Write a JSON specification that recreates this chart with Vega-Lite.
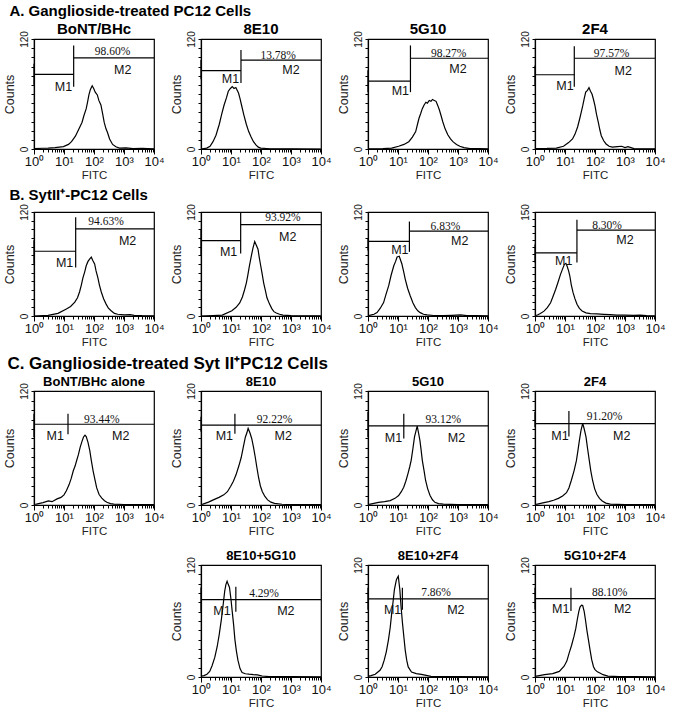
{
"$schema": "https://vega.github.io/schema/vega-lite/v6.json",
"padding": {"left": 2, "right": 2, "top": 4, "bottom": 0},
"background": "white",
"data": {"values": [
{"p":"a1","x":1,"y":0.5},{"p":"a1","x":2,"y":0.8},{"p":"a1","x":2.95,"y":1},{"p":"a1","x":5.01,"y":1.5},{"p":"a1","x":9.55,"y":2.6},{"p":"a1","x":14.1,"y":5},{"p":"a1","x":17.8,"y":8},{"p":"a1","x":24,"y":14},{"p":"a1","x":31.6,"y":22},{"p":"a1","x":39.8,"y":29},{"p":"a1","x":45.7,"y":36},{"p":"a1","x":55,"y":44},{"p":"a1","x":61.7,"y":52},{"p":"a1","x":67.6,"y":59},{"p":"a1","x":75.9,"y":65},{"p":"a1","x":87.1,"y":69},{"p":"a1","x":97.7,"y":66},{"p":"a1","x":110,"y":62},{"p":"a1","x":129,"y":59},{"p":"a1","x":145,"y":53},{"p":"a1","x":170,"y":48},{"p":"a1","x":195,"y":38},{"p":"a1","x":219,"y":29},{"p":"a1","x":251,"y":22},{"p":"a1","x":282,"y":18},{"p":"a1","x":331,"y":11},{"p":"a1","x":417,"y":5},{"p":"a1","x":537,"y":2.5},{"p":"a1","x":708,"y":1},{"p":"a1","x":1175,"y":1.2},{"p":"a1","x":1995,"y":0.5},{"p":"a1","x":3981,"y":0.8},{"p":"a1","x":10000,"y":0.3},
{"p":"a2","x":1,"y":0},{"p":"a2","x":1.55,"y":1},{"p":"a2","x":2,"y":3},{"p":"a2","x":2.51,"y":8},{"p":"a2","x":3.16,"y":15},{"p":"a2","x":4.07,"y":27},{"p":"a2","x":4.9,"y":38},{"p":"a2","x":5.89,"y":48},{"p":"a2","x":7.08,"y":56},{"p":"a2","x":8.13,"y":63},{"p":"a2","x":9.55,"y":66},{"p":"a2","x":11,"y":68},{"p":"a2","x":12.6,"y":66},{"p":"a2","x":14.5,"y":67},{"p":"a2","x":17.8,"y":61},{"p":"a2","x":20,"y":55},{"p":"a2","x":22.4,"y":48},{"p":"a2","x":26.9,"y":37},{"p":"a2","x":32.4,"y":27},{"p":"a2","x":38.9,"y":19},{"p":"a2","x":46.8,"y":13},{"p":"a2","x":56.2,"y":8},{"p":"a2","x":67.6,"y":4.5},{"p":"a2","x":81.3,"y":2},{"p":"a2","x":97.7,"y":1},{"p":"a2","x":200,"y":0.3},{"p":"a2","x":1000,"y":0.3},{"p":"a2","x":10000,"y":0},
{"p":"a3","x":1,"y":0.3},{"p":"a3","x":3.16,"y":0.5},{"p":"a3","x":6.17,"y":1},{"p":"a3","x":10.5,"y":3},{"p":"a3","x":15.8,"y":5},{"p":"a3","x":22.9,"y":8},{"p":"a3","x":30.2,"y":13},{"p":"a3","x":38.9,"y":19},{"p":"a3","x":44.7,"y":27},{"p":"a3","x":50.1,"y":33.5},{"p":"a3","x":57.5,"y":39},{"p":"a3","x":64.6,"y":44},{"p":"a3","x":74.1,"y":48},{"p":"a3","x":85.1,"y":51},{"p":"a3","x":95.5,"y":50},{"p":"a3","x":110,"y":53},{"p":"a3","x":126,"y":52},{"p":"a3","x":141,"y":54},{"p":"a3","x":162,"y":53},{"p":"a3","x":186,"y":52},{"p":"a3","x":214,"y":47},{"p":"a3","x":240,"y":42.5},{"p":"a3","x":275,"y":36},{"p":"a3","x":309,"y":30},{"p":"a3","x":372,"y":22},{"p":"a3","x":457,"y":15.5},{"p":"a3","x":562,"y":11},{"p":"a3","x":676,"y":8},{"p":"a3","x":891,"y":5},{"p":"a3","x":1148,"y":3},{"p":"a3","x":1585,"y":1.5},{"p":"a3","x":2512,"y":0.5},{"p":"a3","x":5012,"y":0.4},{"p":"a3","x":10000,"y":0.2},
{"p":"a4","x":1,"y":0.5},{"p":"a4","x":2.51,"y":0.6},{"p":"a4","x":5.13,"y":1},{"p":"a4","x":8.91,"y":3},{"p":"a4","x":13.2,"y":7},{"p":"a4","x":17.8,"y":11},{"p":"a4","x":21.4,"y":16},{"p":"a4","x":26.3,"y":24},{"p":"a4","x":30.9,"y":33},{"p":"a4","x":34.7,"y":40},{"p":"a4","x":38.9,"y":47},{"p":"a4","x":43.7,"y":55},{"p":"a4","x":49,"y":62},{"p":"a4","x":56.2,"y":64},{"p":"a4","x":63.1,"y":67},{"p":"a4","x":70.8,"y":63},{"p":"a4","x":79.4,"y":60},{"p":"a4","x":89.1,"y":54},{"p":"a4","x":100,"y":47},{"p":"a4","x":112,"y":38},{"p":"a4","x":129,"y":29},{"p":"a4","x":145,"y":21},{"p":"a4","x":162,"y":14.5},{"p":"a4","x":195,"y":9},{"p":"a4","x":234,"y":5.5},{"p":"a4","x":295,"y":3},{"p":"a4","x":380,"y":2},{"p":"a4","x":562,"y":2.5},{"p":"a4","x":776,"y":3},{"p":"a4","x":1000,"y":1.5},{"p":"a4","x":1259,"y":2.5},{"p":"a4","x":1995,"y":0.5},{"p":"a4","x":10000,"y":0.2},
{"p":"b1","x":1,"y":0},{"p":"b1","x":2.95,"y":0.8},{"p":"b1","x":6.31,"y":3},{"p":"b1","x":12,"y":8},{"p":"b1","x":16.6,"y":11},{"p":"b1","x":22.9,"y":16},{"p":"b1","x":28.2,"y":21},{"p":"b1","x":33.1,"y":28},{"p":"b1","x":38,"y":36},{"p":"b1","x":42.7,"y":44},{"p":"b1","x":49,"y":51},{"p":"b1","x":55,"y":58},{"p":"b1","x":63.1,"y":63},{"p":"b1","x":72.4,"y":66},{"p":"b1","x":81.3,"y":68},{"p":"b1","x":91.2,"y":64},{"p":"b1","x":105,"y":60},{"p":"b1","x":117,"y":52},{"p":"b1","x":135,"y":44},{"p":"b1","x":151,"y":36},{"p":"b1","x":174,"y":28},{"p":"b1","x":209,"y":20},{"p":"b1","x":251,"y":14},{"p":"b1","x":302,"y":9},{"p":"b1","x":372,"y":6},{"p":"b1","x":479,"y":3},{"p":"b1","x":617,"y":2},{"p":"b1","x":1023,"y":1.2},{"p":"b1","x":1585,"y":1.5},{"p":"b1","x":2188,"y":0.8},{"p":"b1","x":3981,"y":0.4},{"p":"b1","x":10000,"y":0.2},
{"p":"b2","x":1,"y":0},{"p":"b2","x":2.51,"y":0.5},{"p":"b2","x":5.13,"y":1},{"p":"b2","x":10.7,"y":6},{"p":"b2","x":14.8,"y":10},{"p":"b2","x":19.5,"y":15},{"p":"b2","x":24,"y":22},{"p":"b2","x":28.2,"y":30},{"p":"b2","x":32.4,"y":38},{"p":"b2","x":36.3,"y":47},{"p":"b2","x":40.7,"y":57},{"p":"b2","x":46.8,"y":68},{"p":"b2","x":53.7,"y":78},{"p":"b2","x":61.7,"y":86},{"p":"b2","x":69.2,"y":82},{"p":"b2","x":79.4,"y":77},{"p":"b2","x":87.1,"y":68},{"p":"b2","x":95.5,"y":60},{"p":"b2","x":110,"y":48},{"p":"b2","x":123,"y":38},{"p":"b2","x":141,"y":29},{"p":"b2","x":158,"y":21},{"p":"b2","x":191,"y":14},{"p":"b2","x":229,"y":8.5},{"p":"b2","x":269,"y":5},{"p":"b2","x":324,"y":3.4},{"p":"b2","x":417,"y":2},{"p":"b2","x":537,"y":1},{"p":"b2","x":1000,"y":0.5},{"p":"b2","x":1995,"y":0.3},{"p":"b2","x":10000,"y":0.2},
{"p":"b3","x":1,"y":0.5},{"p":"b3","x":1.2,"y":1},{"p":"b3","x":1.58,"y":2},{"p":"b3","x":2,"y":4},{"p":"b3","x":2.57,"y":9},{"p":"b3","x":3.31,"y":15.5},{"p":"b3","x":3.98,"y":25},{"p":"b3","x":4.9,"y":35},{"p":"b3","x":5.89,"y":47},{"p":"b3","x":7.24,"y":58},{"p":"b3","x":8.32,"y":63},{"p":"b3","x":9.33,"y":68},{"p":"b3","x":11,"y":69},{"p":"b3","x":12.3,"y":64},{"p":"b3","x":13.5,"y":60},{"p":"b3","x":15.5,"y":51},{"p":"b3","x":17.4,"y":42.6},{"p":"b3","x":20.9,"y":32},{"p":"b3","x":25.7,"y":23},{"p":"b3","x":31.6,"y":15},{"p":"b3","x":38,"y":9.7},{"p":"b3","x":45.7,"y":6},{"p":"b3","x":55,"y":3.9},{"p":"b3","x":70.8,"y":2},{"p":"b3","x":93.3,"y":1.2},{"p":"b3","x":155,"y":0.6},{"p":"b3","x":316,"y":0.4},{"p":"b3","x":631,"y":0.8},{"p":"b3","x":1202,"y":1.2},{"p":"b3","x":1995,"y":0.5},{"p":"b3","x":3981,"y":0.6},{"p":"b3","x":10000,"y":0.3},
{"p":"b4","x":1,"y":0.5},{"p":"b4","x":1.2,"y":1.5},{"p":"b4","x":1.51,"y":3.5},{"p":"b4","x":2,"y":7},{"p":"b4","x":2.57,"y":12},{"p":"b4","x":3.31,"y":19},{"p":"b4","x":3.98,"y":28},{"p":"b4","x":4.9,"y":38.5},{"p":"b4","x":5.89,"y":49},{"p":"b4","x":7.08,"y":60},{"p":"b4","x":8.32,"y":68},{"p":"b4","x":9.55,"y":74.5},{"p":"b4","x":10.7,"y":76},{"p":"b4","x":11.7,"y":72},{"p":"b4","x":13.2,"y":65},{"p":"b4","x":14.5,"y":57.7},{"p":"b4","x":16.2,"y":45},{"p":"b4","x":18.6,"y":33.7},{"p":"b4","x":21.4,"y":25},{"p":"b4","x":25.1,"y":17},{"p":"b4","x":30.2,"y":11},{"p":"b4","x":37.2,"y":7.2},{"p":"b4","x":50.1,"y":4.5},{"p":"b4","x":70.8,"y":3.4},{"p":"b4","x":117,"y":3},{"p":"b4","x":195,"y":2.4},{"p":"b4","x":316,"y":2},{"p":"b4","x":537,"y":1.4},{"p":"b4","x":1000,"y":1.2},{"p":"b4","x":1905,"y":1},{"p":"b4","x":3162,"y":1.2},{"p":"b4","x":5248,"y":0.5},{"p":"b4","x":10000,"y":0.2},
{"p":"c1","x":1,"y":0.8},{"p":"c1","x":1.2,"y":1},{"p":"c1","x":2,"y":2.5},{"p":"c1","x":3.02,"y":4.3},{"p":"c1","x":3.98,"y":3.5},{"p":"c1","x":5.89,"y":6.4},{"p":"c1","x":7.94,"y":8},{"p":"c1","x":10,"y":10.7},{"p":"c1","x":12,"y":15},{"p":"c1","x":14.8,"y":21.5},{"p":"c1","x":17.4,"y":28},{"p":"c1","x":20.4,"y":36},{"p":"c1","x":23.4,"y":41},{"p":"c1","x":26.3,"y":46.6},{"p":"c1","x":30.2,"y":53},{"p":"c1","x":34.7,"y":61},{"p":"c1","x":39.8,"y":67},{"p":"c1","x":44.7,"y":71.6},{"p":"c1","x":50.1,"y":73.4},{"p":"c1","x":55,"y":72},{"p":"c1","x":63.1,"y":66},{"p":"c1","x":72.4,"y":57.3},{"p":"c1","x":81.3,"y":47},{"p":"c1","x":93.3,"y":36},{"p":"c1","x":107,"y":27},{"p":"c1","x":123,"y":18},{"p":"c1","x":148,"y":11},{"p":"c1","x":182,"y":7.2},{"p":"c1","x":224,"y":4.5},{"p":"c1","x":269,"y":2.9},{"p":"c1","x":355,"y":1.5},{"p":"c1","x":457,"y":1},{"p":"c1","x":1000,"y":0.5},{"p":"c1","x":3162,"y":0.3},{"p":"c1","x":10000,"y":0.3},
{"p":"c2","x":1,"y":0.5},{"p":"c2","x":1.15,"y":1},{"p":"c2","x":1.78,"y":3},{"p":"c2","x":2.57,"y":5.4},{"p":"c2","x":3.98,"y":8},{"p":"c2","x":5.75,"y":10.7},{"p":"c2","x":7.59,"y":14},{"p":"c2","x":9.77,"y":19.7},{"p":"c2","x":12,"y":25},{"p":"c2","x":14.8,"y":32},{"p":"c2","x":18.2,"y":41},{"p":"c2","x":21.9,"y":50},{"p":"c2","x":25.7,"y":61},{"p":"c2","x":30.2,"y":71.6},{"p":"c2","x":33.9,"y":76},{"p":"c2","x":37.2,"y":80.6},{"p":"c2","x":42.7,"y":76},{"p":"c2","x":49,"y":70},{"p":"c2","x":56.2,"y":61},{"p":"c2","x":64.6,"y":50},{"p":"c2","x":72.4,"y":40},{"p":"c2","x":83.2,"y":28.7},{"p":"c2","x":95.5,"y":20},{"p":"c2","x":110,"y":14.3},{"p":"c2","x":135,"y":9},{"p":"c2","x":166,"y":5.4},{"p":"c2","x":214,"y":3},{"p":"c2","x":282,"y":1.8},{"p":"c2","x":501,"y":0.8},{"p":"c2","x":1000,"y":0.4},{"p":"c2","x":10000,"y":0.3},
{"p":"c3","x":1,"y":0.5},{"p":"c3","x":1.2,"y":1},{"p":"c3","x":2.24,"y":2.8},{"p":"c3","x":3.55,"y":3.5},{"p":"c3","x":5.5,"y":4.6},{"p":"c3","x":7.94,"y":7},{"p":"c3","x":10.5,"y":10},{"p":"c3","x":12.9,"y":14},{"p":"c3","x":15.5,"y":18.7},{"p":"c3","x":18.2,"y":25},{"p":"c3","x":21.4,"y":32.8},{"p":"c3","x":24.5,"y":40},{"p":"c3","x":27.5,"y":47},{"p":"c3","x":31.6,"y":60},{"p":"c3","x":35.5,"y":71.6},{"p":"c3","x":39.8,"y":78},{"p":"c3","x":43.7,"y":83},{"p":"c3","x":49,"y":75},{"p":"c3","x":53.7,"y":68},{"p":"c3","x":58.9,"y":58},{"p":"c3","x":64.6,"y":47},{"p":"c3","x":74.1,"y":36},{"p":"c3","x":83.2,"y":25.8},{"p":"c3","x":97.7,"y":17},{"p":"c3","x":117,"y":10},{"p":"c3","x":141,"y":5.5},{"p":"c3","x":170,"y":2.8},{"p":"c3","x":224,"y":1.5},{"p":"c3","x":324,"y":1},{"p":"c3","x":1000,"y":0.4},{"p":"c3","x":10000,"y":0.3},
{"p":"c4","x":1,"y":0.5},{"p":"c4","x":1.2,"y":1},{"p":"c4","x":2,"y":2.5},{"p":"c4","x":2.88,"y":3.5},{"p":"c4","x":4.17,"y":5},{"p":"c4","x":6.03,"y":7},{"p":"c4","x":8.32,"y":9.5},{"p":"c4","x":11.2,"y":13},{"p":"c4","x":13.5,"y":18},{"p":"c4","x":16.2,"y":25.8},{"p":"c4","x":20,"y":36},{"p":"c4","x":24,"y":46.7},{"p":"c4","x":26.9,"y":57},{"p":"c4","x":30.2,"y":68},{"p":"c4","x":33.9,"y":78},{"p":"c4","x":38.9,"y":86},{"p":"c4","x":43.7,"y":80},{"p":"c4","x":50.1,"y":71.7},{"p":"c4","x":56.2,"y":60},{"p":"c4","x":64.6,"y":46.7},{"p":"c4","x":72.4,"y":36},{"p":"c4","x":83.2,"y":25.8},{"p":"c4","x":97.7,"y":17},{"p":"c4","x":115,"y":11.3},{"p":"c4","x":141,"y":7},{"p":"c4","x":174,"y":4.2},{"p":"c4","x":229,"y":2},{"p":"c4","x":324,"y":1},{"p":"c4","x":1000,"y":0.4},{"p":"c4","x":10000,"y":0.3},
{"p":"d1","x":1,"y":0.8},{"p":"d1","x":1.26,"y":1.5},{"p":"d1","x":1.58,"y":3},{"p":"d1","x":1.95,"y":6},{"p":"d1","x":2.34,"y":12},{"p":"d1","x":2.88,"y":21},{"p":"d1","x":3.47,"y":32.7},{"p":"d1","x":4.07,"y":46},{"p":"d1","x":4.79,"y":62},{"p":"d1","x":5.5,"y":78},{"p":"d1","x":6.17,"y":92},{"p":"d1","x":6.76,"y":99},{"p":"d1","x":7.41,"y":102.5},{"p":"d1","x":8.13,"y":99},{"p":"d1","x":8.91,"y":96},{"p":"d1","x":10,"y":83},{"p":"d1","x":11,"y":70},{"p":"d1","x":12.3,"y":55},{"p":"d1","x":13.5,"y":40},{"p":"d1","x":15.1,"y":28},{"p":"d1","x":17,"y":18},{"p":"d1","x":20,"y":9},{"p":"d1","x":23.4,"y":4.8},{"p":"d1","x":30.2,"y":3.5},{"p":"d1","x":39.8,"y":3},{"p":"d1","x":56.2,"y":2.5},{"p":"d1","x":75.9,"y":2.2},{"p":"d1","x":110,"y":1.1},{"p":"d1","x":186,"y":0.5},{"p":"d1","x":398,"y":0.3},{"p":"d1","x":1000,"y":0.3},{"p":"d1","x":10000,"y":0.2},
{"p":"d2","x":1,"y":0.6},{"p":"d2","x":1.26,"y":1.5},{"p":"d2","x":1.74,"y":2.9},{"p":"d2","x":2.51,"y":7.2},{"p":"d2","x":2.95,"y":11},{"p":"d2","x":3.47,"y":18},{"p":"d2","x":4.07,"y":27},{"p":"d2","x":4.79,"y":39.6},{"p":"d2","x":5.5,"y":53},{"p":"d2","x":6.17,"y":68.5},{"p":"d2","x":6.92,"y":82},{"p":"d2","x":7.59,"y":93.7},{"p":"d2","x":8.32,"y":100},{"p":"d2","x":8.91,"y":104.5},{"p":"d2","x":10.2,"y":108},{"p":"d2","x":11.5,"y":93.7},{"p":"d2","x":12.6,"y":76},{"p":"d2","x":14.1,"y":57.7},{"p":"d2","x":15.8,"y":42},{"p":"d2","x":17.4,"y":28.8},{"p":"d2","x":19.5,"y":18},{"p":"d2","x":21.9,"y":10.8},{"p":"d2","x":28.2,"y":5.4},{"p":"d2","x":40.7,"y":3.6},{"p":"d2","x":60.3,"y":2.9},{"p":"d2","x":87.1,"y":1.8},{"p":"d2","x":126,"y":0.7},{"p":"d2","x":316,"y":0.3},{"p":"d2","x":1000,"y":0.3},{"p":"d2","x":10000,"y":0.2},
{"p":"d3","x":1,"y":0.5},{"p":"d3","x":1.12,"y":1},{"p":"d3","x":2.09,"y":2.5},{"p":"d3","x":3.89,"y":3.6},{"p":"d3","x":6.46,"y":6},{"p":"d3","x":9.33,"y":11.5},{"p":"d3","x":11.5,"y":17},{"p":"d3","x":13.8,"y":25.8},{"p":"d3","x":16.6,"y":34},{"p":"d3","x":20,"y":43.7},{"p":"d3","x":22.9,"y":52},{"p":"d3","x":25.7,"y":61.6},{"p":"d3","x":28.8,"y":70},{"p":"d3","x":31.6,"y":75},{"p":"d3","x":35.5,"y":77},{"p":"d3","x":38.9,"y":76.6},{"p":"d3","x":43.7,"y":70},{"p":"d3","x":47.9,"y":61.6},{"p":"d3","x":53.7,"y":50},{"p":"d3","x":60.3,"y":40},{"p":"d3","x":69.2,"y":28},{"p":"d3","x":77.6,"y":18.6},{"p":"d3","x":89.1,"y":11},{"p":"d3","x":100,"y":7.9},{"p":"d3","x":120,"y":5.5},{"p":"d3","x":145,"y":4.3},{"p":"d3","x":186,"y":2.5},{"p":"d3","x":269,"y":1},{"p":"d3","x":631,"y":0.4},{"p":"d3","x":1995,"y":0.3},{"p":"d3","x":10000,"y":0.2},
{"p":"a1","k":"g","x":1,"y":81.5,"x2":21,"y2":81.5},{"p":"a1","k":"g","x":21,"y":99.5,"x2":10000,"y2":99.5},{"p":"a1","k":"g","x":21,"y":68,"x2":21,"y2":113},{"p":"a1","k":"g","x":1,"y":70,"x2":1,"y2":93},
{"p":"a1","k":"m","x":9.55,"y":67.5,"t":"M1"},{"p":"a1","k":"m","x":912,"y":86,"t":"M2"},{"p":"a1","k":"q","x":417,"y":106,"t":"98.60%"},
{"p":"a2","k":"g","x":1,"y":85.5,"x2":21.5,"y2":85.5},{"p":"a2","k":"g","x":21.5,"y":97,"x2":10000,"y2":97},{"p":"a2","k":"g","x":21.5,"y":72,"x2":21.5,"y2":108},{"p":"a2","k":"g","x":1,"y":76,"x2":1,"y2":97},
{"p":"a2","k":"m","x":9.55,"y":76,"t":"M1"},{"p":"a2","k":"m","x":1000,"y":86,"t":"M2"},{"p":"a2","k":"q","x":372,"y":102,"t":"13.78%"},
{"p":"a3","k":"g","x":1,"y":74,"x2":26,"y2":74},{"p":"a3","k":"g","x":26,"y":99,"x2":10000,"y2":99},{"p":"a3","k":"g","x":26,"y":62,"x2":26,"y2":113},{"p":"a3","k":"g","x":1,"y":62,"x2":1,"y2":86},
{"p":"a3","k":"m","x":12,"y":63,"t":"M1"},{"p":"a3","k":"m","x":1000,"y":87,"t":"M2"},{"p":"a3","k":"q","x":490,"y":104,"t":"98.27%"},
{"p":"a4","k":"g","x":1,"y":81,"x2":20.4,"y2":81},{"p":"a4","k":"g","x":20.4,"y":99,"x2":10000,"y2":99},{"p":"a4","k":"g","x":20.4,"y":68,"x2":20.4,"y2":112},{"p":"a4","k":"g","x":1,"y":69.5,"x2":1,"y2":91},
{"p":"a4","k":"m","x":10,"y":69,"t":"M1"},{"p":"a4","k":"m","x":871,"y":85.5,"t":"M2"},{"p":"a4","k":"q","x":355,"y":104,"t":"97.57%"},
{"p":"b1","k":"g","x":1,"y":74.7,"x2":24.5,"y2":74.7},{"p":"b1","k":"g","x":24.5,"y":100.5,"x2":10000,"y2":100.5},{"p":"b1","k":"g","x":24.5,"y":56,"x2":24.5,"y2":114},{"p":"b1","k":"g","x":1,"y":60.4,"x2":1,"y2":87.4},
{"p":"b1","k":"m","x":10.5,"y":61.6,"t":"M1"},{"p":"b1","k":"m","x":1318,"y":86.6,"t":"M2"},{"p":"b1","k":"q","x":251,"y":108.5,"t":"94.63%"},
{"p":"b2","k":"g","x":1,"y":87,"x2":21,"y2":87},{"p":"b2","k":"g","x":21,"y":105.5,"x2":10000,"y2":105.5},{"p":"b2","k":"g","x":21,"y":72,"x2":21,"y2":119},{"p":"b2","k":"g","x":1,"y":70,"x2":1,"y2":100},
{"p":"b2","k":"m","x":8.3,"y":73.6,"t":"M1"},{"p":"b2","k":"m","x":776,"y":91.5,"t":"M2"},{"p":"b2","k":"q","x":537,"y":113,"t":"93.92%"},
{"p":"b3","k":"g","x":1,"y":86,"x2":24,"y2":86},{"p":"b3","k":"g","x":24,"y":98,"x2":10000,"y2":98},{"p":"b3","k":"g","x":24,"y":74,"x2":24,"y2":109},{"p":"b3","k":"g","x":1,"y":75.5,"x2":1,"y2":89.8},
{"p":"b3","k":"m","x":11.5,"y":76,"t":"M1"},{"p":"b3","k":"m","x":1148,"y":86,"t":"M2"},{"p":"b3","k":"q","x":380,"y":102.6,"t":"6.83%"},
{"p":"b4","k":"g","x":1,"y":91,"x2":25,"y2":91},{"p":"b4","k":"g","x":25,"y":124,"x2":10000,"y2":124},{"p":"b4","k":"g","x":25,"y":77,"x2":25,"y2":139},{"p":"b4","k":"g","x":1,"y":77,"x2":1,"y2":103},
{"p":"b4","k":"m","x":9.1,"y":80,"t":"M1"},{"p":"b4","k":"m","x":1000,"y":109,"t":"M2"},{"p":"b4","k":"q","x":251,"y":130,"t":"8.30%"},
{"p":"c1","k":"g","x":1,"y":85,"x2":10000,"y2":85},{"p":"c1","k":"g","x":13.6,"y":74.5,"x2":13.6,"y2":96},{"p":"c1","k":"g","x":1,"y":71.6,"x2":1,"y2":96},
{"p":"c1","k":"m","x":5.1,"y":73,"t":"M1"},{"p":"c1","k":"m","x":776,"y":73,"t":"M2"},{"p":"c1","k":"q","x":182,"y":90,"t":"93.44%"},
{"p":"c2","k":"g","x":1,"y":84,"x2":10000,"y2":84},{"p":"c2","k":"g","x":13.5,"y":75,"x2":13.5,"y2":96},{"p":"c2","k":"g","x":1,"y":77,"x2":1,"y2":93},
{"p":"c2","k":"m","x":6,"y":73,"t":"M1"},{"p":"c2","k":"m","x":550,"y":73,"t":"M2"},{"p":"c2","k":"q","x":282,"y":90,"t":"92.22%"},
{"p":"c3","k":"g","x":1,"y":83.3,"x2":10000,"y2":83.3},{"p":"c3","k":"g","x":15.6,"y":70,"x2":15.6,"y2":96},{"p":"c3","k":"g","x":1,"y":71.6,"x2":1,"y2":97.8},
{"p":"c3","k":"m","x":7.1,"y":71,"t":"M1"},{"p":"c3","k":"m","x":891,"y":71,"t":"M2"},{"p":"c3","k":"q","x":324,"y":90,"t":"93.12%"},
{"p":"c4","k":"g","x":1,"y":85.7,"x2":10000,"y2":85.7},{"p":"c4","k":"g","x":13.5,"y":72,"x2":13.5,"y2":99},{"p":"c4","k":"g","x":1,"y":82,"x2":1,"y2":98},
{"p":"c4","k":"m","x":6.8,"y":73,"t":"M1"},{"p":"c4","k":"m","x":776,"y":73,"t":"M2"},{"p":"c4","k":"q","x":209,"y":92.6,"t":"91.20%"},
{"p":"d1","k":"g","x":1,"y":82.8,"x2":10000,"y2":82.8},{"p":"d1","k":"g","x":14.5,"y":70,"x2":14.5,"y2":96.6},{"p":"d1","k":"g","x":1,"y":70,"x2":1,"y2":95.8},
{"p":"d1","k":"m","x":5,"y":71,"t":"M1"},{"p":"d1","k":"m","x":676,"y":71,"t":"M2"},{"p":"d1","k":"q","x":126,"y":89,"t":"4.29%"},
{"p":"d2","k":"g","x":1,"y":83.6,"x2":10000,"y2":83.6},{"p":"d2","k":"g","x":14,"y":72,"x2":14,"y2":95.5},{"p":"d2","k":"g","x":1,"y":72,"x2":1,"y2":95.5},
{"p":"d2","k":"m","x":6.6,"y":72,"t":"M1"},{"p":"d2","k":"m","x":851,"y":72,"t":"M2"},{"p":"d2","k":"q","x":186,"y":90,"t":"7.86%"},
{"p":"d3","k":"g","x":1,"y":84,"x2":10000,"y2":84},{"p":"d3","k":"g","x":15.8,"y":70.6,"x2":15.8,"y2":95.6},{"p":"d3","k":"g","x":1,"y":72.4,"x2":1,"y2":95.6},
{"p":"d3","k":"m","x":7.2,"y":73,"t":"M1"},{"p":"d3","k":"m","x":832,"y":73,"t":"M2"},{"p":"d3","k":"q","x":309,"y":90,"t":"88.10%"}
]},
"spacing": 6,
"vconcat": [
{"title": {"text": "A. Ganglioside-treated PC12 Cells", "anchor": "start", "fontSize": 15, "offset": 2, "dx": 7},
 "columns": 4, "spacing": {"column": 4, "row": 6},
 "concat": [
  {"title": {"text": "BoNT/BHc", "offset": -6}, "width": 120, "height": 110, "transform": [{"filter": "datum.p=='a1'"}],
   "encoding": {"x": {"field": "x", "type": "quantitative", "scale": {"type": "log", "domain": [1, 10000]}, "title": "FITC"}, "y": {"field": "y", "type": "quantitative", "scale": {"domain": [0, 120]}, "title": "Counts"}},
   "layer": [
    {"transform": [{"filter": "!datum.k"}], "mark": {"type": "line", "color": "black", "strokeWidth": 1.2}},
    {"transform": [{"filter": "datum.k=='g'"}], "mark": {"type": "rule", "color": "black", "strokeWidth": 1.2}, "encoding": {"x2": {"field": "x2"}, "y2": {"field": "y2"}}},
    {"transform": [{"filter": "datum.k=='m'"}], "mark": {"type": "text", "fontSize": 12.5, "color": "#111"}, "encoding": {"text": {"field": "t"}}},
    {"transform": [{"filter": "datum.k=='q'"}], "mark": {"type": "text", "font": "Liberation Serif", "fontSize": 11.5, "color": "#111"}, "encoding": {"text": {"field": "t"}}}
   ]},
  {"title": {"text": "8E10", "offset": -6}, "width": 120, "height": 110, "transform": [{"filter": "datum.p=='a2'"}],
   "encoding": {"x": {"field": "x", "type": "quantitative", "scale": {"type": "log", "domain": [1, 10000]}, "title": "FITC"}, "y": {"field": "y", "type": "quantitative", "scale": {"domain": [0, 120]}, "title": "Counts"}},
   "layer": [
    {"transform": [{"filter": "!datum.k"}], "mark": {"type": "line", "color": "black", "strokeWidth": 1.2}},
    {"transform": [{"filter": "datum.k=='g'"}], "mark": {"type": "rule", "color": "black", "strokeWidth": 1.2}, "encoding": {"x2": {"field": "x2"}, "y2": {"field": "y2"}}},
    {"transform": [{"filter": "datum.k=='m'"}], "mark": {"type": "text", "fontSize": 12.5, "color": "#111"}, "encoding": {"text": {"field": "t"}}},
    {"transform": [{"filter": "datum.k=='q'"}], "mark": {"type": "text", "font": "Liberation Serif", "fontSize": 11.5, "color": "#111"}, "encoding": {"text": {"field": "t"}}}
   ]},
  {"title": {"text": "5G10", "offset": -6}, "width": 120, "height": 110, "transform": [{"filter": "datum.p=='a3'"}],
   "encoding": {"x": {"field": "x", "type": "quantitative", "scale": {"type": "log", "domain": [1, 10000]}, "title": "FITC"}, "y": {"field": "y", "type": "quantitative", "scale": {"domain": [0, 120]}, "title": "Counts"}},
   "layer": [
    {"transform": [{"filter": "!datum.k"}], "mark": {"type": "line", "color": "black", "strokeWidth": 1.2}},
    {"transform": [{"filter": "datum.k=='g'"}], "mark": {"type": "rule", "color": "black", "strokeWidth": 1.2}, "encoding": {"x2": {"field": "x2"}, "y2": {"field": "y2"}}},
    {"transform": [{"filter": "datum.k=='m'"}], "mark": {"type": "text", "fontSize": 12.5, "color": "#111"}, "encoding": {"text": {"field": "t"}}},
    {"transform": [{"filter": "datum.k=='q'"}], "mark": {"type": "text", "font": "Liberation Serif", "fontSize": 11.5, "color": "#111"}, "encoding": {"text": {"field": "t"}}}
   ]},
  {"title": {"text": "2F4", "offset": -6}, "width": 120, "height": 110, "transform": [{"filter": "datum.p=='a4'"}],
   "encoding": {"x": {"field": "x", "type": "quantitative", "scale": {"type": "log", "domain": [1, 10000]}, "title": "FITC"}, "y": {"field": "y", "type": "quantitative", "scale": {"domain": [0, 120]}, "title": "Counts"}},
   "layer": [
    {"transform": [{"filter": "!datum.k"}], "mark": {"type": "line", "color": "black", "strokeWidth": 1.2}},
    {"transform": [{"filter": "datum.k=='g'"}], "mark": {"type": "rule", "color": "black", "strokeWidth": 1.2}, "encoding": {"x2": {"field": "x2"}, "y2": {"field": "y2"}}},
    {"transform": [{"filter": "datum.k=='m'"}], "mark": {"type": "text", "fontSize": 12.5, "color": "#111"}, "encoding": {"text": {"field": "t"}}},
    {"transform": [{"filter": "datum.k=='q'"}], "mark": {"type": "text", "font": "Liberation Serif", "fontSize": 11.5, "color": "#111"}, "encoding": {"text": {"field": "t"}}}
   ]}
 ]},
{"title": {"text": "B. SytII⁺-PC12 Cells", "anchor": "start", "fontSize": 15, "offset": 0, "dx": 7},
 "columns": 4, "spacing": {"column": 4, "row": 6},
 "concat": [
  {"width": 120, "height": 104, "transform": [{"filter": "datum.p=='b1'"}],
   "encoding": {"x": {"field": "x", "type": "quantitative", "scale": {"type": "log", "domain": [1, 10000]}, "title": "FITC"}, "y": {"field": "y", "type": "quantitative", "scale": {"domain": [0, 120]}, "title": "Counts"}},
   "layer": [
    {"transform": [{"filter": "!datum.k"}], "mark": {"type": "line", "color": "black", "strokeWidth": 1.2}},
    {"transform": [{"filter": "datum.k=='g'"}], "mark": {"type": "rule", "color": "black", "strokeWidth": 1.2}, "encoding": {"x2": {"field": "x2"}, "y2": {"field": "y2"}}},
    {"transform": [{"filter": "datum.k=='m'"}], "mark": {"type": "text", "fontSize": 12.5, "color": "#111"}, "encoding": {"text": {"field": "t"}}},
    {"transform": [{"filter": "datum.k=='q'"}], "mark": {"type": "text", "font": "Liberation Serif", "fontSize": 11.5, "color": "#111"}, "encoding": {"text": {"field": "t"}}}
   ]},
  {"width": 120, "height": 104, "transform": [{"filter": "datum.p=='b2'"}],
   "encoding": {"x": {"field": "x", "type": "quantitative", "scale": {"type": "log", "domain": [1, 10000]}, "title": "FITC"}, "y": {"field": "y", "type": "quantitative", "scale": {"domain": [0, 120]}, "title": "Counts"}},
   "layer": [
    {"transform": [{"filter": "!datum.k"}], "mark": {"type": "line", "color": "black", "strokeWidth": 1.2}},
    {"transform": [{"filter": "datum.k=='g'"}], "mark": {"type": "rule", "color": "black", "strokeWidth": 1.2}, "encoding": {"x2": {"field": "x2"}, "y2": {"field": "y2"}}},
    {"transform": [{"filter": "datum.k=='m'"}], "mark": {"type": "text", "fontSize": 12.5, "color": "#111"}, "encoding": {"text": {"field": "t"}}},
    {"transform": [{"filter": "datum.k=='q'"}], "mark": {"type": "text", "font": "Liberation Serif", "fontSize": 11.5, "color": "#111"}, "encoding": {"text": {"field": "t"}}}
   ]},
  {"width": 120, "height": 104, "transform": [{"filter": "datum.p=='b3'"}],
   "encoding": {"x": {"field": "x", "type": "quantitative", "scale": {"type": "log", "domain": [1, 10000]}, "title": "FITC"}, "y": {"field": "y", "type": "quantitative", "scale": {"domain": [0, 120]}, "title": "Counts"}},
   "layer": [
    {"transform": [{"filter": "!datum.k"}], "mark": {"type": "line", "color": "black", "strokeWidth": 1.2}},
    {"transform": [{"filter": "datum.k=='g'"}], "mark": {"type": "rule", "color": "black", "strokeWidth": 1.2}, "encoding": {"x2": {"field": "x2"}, "y2": {"field": "y2"}}},
    {"transform": [{"filter": "datum.k=='m'"}], "mark": {"type": "text", "fontSize": 12.5, "color": "#111"}, "encoding": {"text": {"field": "t"}}},
    {"transform": [{"filter": "datum.k=='q'"}], "mark": {"type": "text", "font": "Liberation Serif", "fontSize": 11.5, "color": "#111"}, "encoding": {"text": {"field": "t"}}}
   ]},
  {"width": 120, "height": 104, "transform": [{"filter": "datum.p=='b4'"}],
   "encoding": {"x": {"field": "x", "type": "quantitative", "scale": {"type": "log", "domain": [1, 10000]}, "title": "FITC"}, "y": {"field": "y", "type": "quantitative", "scale": {"domain": [0, 150]}, "title": "Counts", "axis": {"labelExpr": "datum.value == 0 || datum.value == 150 ? datum.label : ''"}}},
   "layer": [
    {"transform": [{"filter": "!datum.k"}], "mark": {"type": "line", "color": "black", "strokeWidth": 1.2}},
    {"transform": [{"filter": "datum.k=='g'"}], "mark": {"type": "rule", "color": "black", "strokeWidth": 1.2}, "encoding": {"x2": {"field": "x2"}, "y2": {"field": "y2"}}},
    {"transform": [{"filter": "datum.k=='m'"}], "mark": {"type": "text", "fontSize": 12.5, "color": "#111"}, "encoding": {"text": {"field": "t"}}},
    {"transform": [{"filter": "datum.k=='q'"}], "mark": {"type": "text", "font": "Liberation Serif", "fontSize": 11.5, "color": "#111"}, "encoding": {"text": {"field": "t"}}}
   ]}
 ]},
{"title": {"text": "C. Ganglioside-treated Syt II⁺PC12 Cells", "anchor": "start", "fontSize": 17, "offset": 2, "dx": 5},
 "columns": 4, "spacing": {"column": 4, "row": 11},
 "concat": [
  {"title": {"text": "BoNT/BHc alone", "fontSize": 13, "offset": -6}, "width": 120, "height": 114, "transform": [{"filter": "datum.p=='c1'"}],
   "encoding": {"x": {"field": "x", "type": "quantitative", "scale": {"type": "log", "domain": [1, 10000]}, "title": "FITC"}, "y": {"field": "y", "type": "quantitative", "scale": {"domain": [0, 120]}, "title": "Counts"}},
   "layer": [
    {"transform": [{"filter": "!datum.k"}], "mark": {"type": "line", "color": "black", "strokeWidth": 1.2}},
    {"transform": [{"filter": "datum.k=='g'"}], "mark": {"type": "rule", "color": "black", "strokeWidth": 1.2}, "encoding": {"x2": {"field": "x2"}, "y2": {"field": "y2"}}},
    {"transform": [{"filter": "datum.k=='m'"}], "mark": {"type": "text", "fontSize": 12.5, "color": "#111"}, "encoding": {"text": {"field": "t"}}},
    {"transform": [{"filter": "datum.k=='q'"}], "mark": {"type": "text", "font": "Liberation Serif", "fontSize": 11.5, "color": "#111"}, "encoding": {"text": {"field": "t"}}}
   ]},
  {"title": {"text": "8E10", "fontSize": 13, "offset": -6}, "width": 120, "height": 114, "transform": [{"filter": "datum.p=='c2'"}],
   "encoding": {"x": {"field": "x", "type": "quantitative", "scale": {"type": "log", "domain": [1, 10000]}, "title": "FITC"}, "y": {"field": "y", "type": "quantitative", "scale": {"domain": [0, 120]}, "title": "Counts"}},
   "layer": [
    {"transform": [{"filter": "!datum.k"}], "mark": {"type": "line", "color": "black", "strokeWidth": 1.2}},
    {"transform": [{"filter": "datum.k=='g'"}], "mark": {"type": "rule", "color": "black", "strokeWidth": 1.2}, "encoding": {"x2": {"field": "x2"}, "y2": {"field": "y2"}}},
    {"transform": [{"filter": "datum.k=='m'"}], "mark": {"type": "text", "fontSize": 12.5, "color": "#111"}, "encoding": {"text": {"field": "t"}}},
    {"transform": [{"filter": "datum.k=='q'"}], "mark": {"type": "text", "font": "Liberation Serif", "fontSize": 11.5, "color": "#111"}, "encoding": {"text": {"field": "t"}}}
   ]},
  {"title": {"text": "5G10", "fontSize": 13, "offset": -6}, "width": 120, "height": 114, "transform": [{"filter": "datum.p=='c3'"}],
   "encoding": {"x": {"field": "x", "type": "quantitative", "scale": {"type": "log", "domain": [1, 10000]}, "title": "FITC"}, "y": {"field": "y", "type": "quantitative", "scale": {"domain": [0, 120]}, "title": "Counts"}},
   "layer": [
    {"transform": [{"filter": "!datum.k"}], "mark": {"type": "line", "color": "black", "strokeWidth": 1.2}},
    {"transform": [{"filter": "datum.k=='g'"}], "mark": {"type": "rule", "color": "black", "strokeWidth": 1.2}, "encoding": {"x2": {"field": "x2"}, "y2": {"field": "y2"}}},
    {"transform": [{"filter": "datum.k=='m'"}], "mark": {"type": "text", "fontSize": 12.5, "color": "#111"}, "encoding": {"text": {"field": "t"}}},
    {"transform": [{"filter": "datum.k=='q'"}], "mark": {"type": "text", "font": "Liberation Serif", "fontSize": 11.5, "color": "#111"}, "encoding": {"text": {"field": "t"}}}
   ]},
  {"title": {"text": "2F4", "fontSize": 13, "offset": -6}, "width": 120, "height": 114, "transform": [{"filter": "datum.p=='c4'"}],
   "encoding": {"x": {"field": "x", "type": "quantitative", "scale": {"type": "log", "domain": [1, 10000]}, "title": "FITC"}, "y": {"field": "y", "type": "quantitative", "scale": {"domain": [0, 120]}, "title": "Counts"}},
   "layer": [
    {"transform": [{"filter": "!datum.k"}], "mark": {"type": "line", "color": "black", "strokeWidth": 1.2}},
    {"transform": [{"filter": "datum.k=='g'"}], "mark": {"type": "rule", "color": "black", "strokeWidth": 1.2}, "encoding": {"x2": {"field": "x2"}, "y2": {"field": "y2"}}},
    {"transform": [{"filter": "datum.k=='m'"}], "mark": {"type": "text", "fontSize": 12.5, "color": "#111"}, "encoding": {"text": {"field": "t"}}},
    {"transform": [{"filter": "datum.k=='q'"}], "mark": {"type": "text", "font": "Liberation Serif", "fontSize": 11.5, "color": "#111"}, "encoding": {"text": {"field": "t"}}}
   ]},
  {"width": 120, "height": 112, "view": {"stroke": null}, "transform": [{"filter": "false"}], "mark": {"type": "point", "opacity": 0}, "encoding": {}},
  {"title": {"text": "8E10+5G10", "fontSize": 13, "offset": -6}, "width": 120, "height": 112, "transform": [{"filter": "datum.p=='d1'"}],
   "encoding": {"x": {"field": "x", "type": "quantitative", "scale": {"type": "log", "domain": [1, 10000]}, "title": "FITC"}, "y": {"field": "y", "type": "quantitative", "scale": {"domain": [0, 120]}, "title": "Counts"}},
   "layer": [
    {"transform": [{"filter": "!datum.k"}], "mark": {"type": "line", "color": "black", "strokeWidth": 1.2}},
    {"transform": [{"filter": "datum.k=='g'"}], "mark": {"type": "rule", "color": "black", "strokeWidth": 1.2}, "encoding": {"x2": {"field": "x2"}, "y2": {"field": "y2"}}},
    {"transform": [{"filter": "datum.k=='m'"}], "mark": {"type": "text", "fontSize": 12.5, "color": "#111"}, "encoding": {"text": {"field": "t"}}},
    {"transform": [{"filter": "datum.k=='q'"}], "mark": {"type": "text", "font": "Liberation Serif", "fontSize": 11.5, "color": "#111"}, "encoding": {"text": {"field": "t"}}}
   ]},
  {"title": {"text": "8E10+2F4", "fontSize": 13, "offset": -6}, "width": 120, "height": 112, "transform": [{"filter": "datum.p=='d2'"}],
   "encoding": {"x": {"field": "x", "type": "quantitative", "scale": {"type": "log", "domain": [1, 10000]}, "title": "FITC"}, "y": {"field": "y", "type": "quantitative", "scale": {"domain": [0, 120]}, "title": "Counts"}},
   "layer": [
    {"transform": [{"filter": "!datum.k"}], "mark": {"type": "line", "color": "black", "strokeWidth": 1.2}},
    {"transform": [{"filter": "datum.k=='g'"}], "mark": {"type": "rule", "color": "black", "strokeWidth": 1.2}, "encoding": {"x2": {"field": "x2"}, "y2": {"field": "y2"}}},
    {"transform": [{"filter": "datum.k=='m'"}], "mark": {"type": "text", "fontSize": 12.5, "color": "#111"}, "encoding": {"text": {"field": "t"}}},
    {"transform": [{"filter": "datum.k=='q'"}], "mark": {"type": "text", "font": "Liberation Serif", "fontSize": 11.5, "color": "#111"}, "encoding": {"text": {"field": "t"}}}
   ]},
  {"title": {"text": "5G10+2F4", "fontSize": 13, "offset": -6}, "width": 120, "height": 112, "transform": [{"filter": "datum.p=='d3'"}],
   "encoding": {"x": {"field": "x", "type": "quantitative", "scale": {"type": "log", "domain": [1, 10000]}, "title": "FITC"}, "y": {"field": "y", "type": "quantitative", "scale": {"domain": [0, 120]}, "title": "Counts"}},
   "layer": [
    {"transform": [{"filter": "!datum.k"}], "mark": {"type": "line", "color": "black", "strokeWidth": 1.2}},
    {"transform": [{"filter": "datum.k=='g'"}], "mark": {"type": "rule", "color": "black", "strokeWidth": 1.2}, "encoding": {"x2": {"field": "x2"}, "y2": {"field": "y2"}}},
    {"transform": [{"filter": "datum.k=='m'"}], "mark": {"type": "text", "fontSize": 12.5, "color": "#111"}, "encoding": {"text": {"field": "t"}}},
    {"transform": [{"filter": "datum.k=='q'"}], "mark": {"type": "text", "font": "Liberation Serif", "fontSize": 11.5, "color": "#111"}, "encoding": {"text": {"field": "t"}}}
   ]}
 ]}
],
"config": {
 "font": "Liberation Sans",
 "view": {"stroke": "black", "strokeWidth": 1.2},
 "title": {"fontSize": 15, "fontWeight": "bold", "color": "black", "font": "Liberation Sans"},
 "axis": {"domainColor": "black", "tickColor": "black", "labelColor": "#111", "titleColor": "#222", "titleFontWeight": "normal", "grid": false, "domainWidth": 1.2, "tickWidth": 1, "labelFont": "Liberation Sans", "titleFont": "Liberation Sans"},
 "axisX": {"tickCount": 40, "labelOverlap": false, "labelFlush": false, "labelFontSize": 13, "labelPadding": 1, "titleFontSize": 11.5, "titlePadding": 1,
   "tickSize": {"condition": {"test": "datum.value == 1 || datum.value == 10 || datum.value == 100 || datum.value == 1000 || datum.value == 10000", "value": 5}, "value": 3},
   "labelExpr": "datum.value == 1 ? '10⁰' : datum.value == 10 ? '10¹' : datum.value == 100 ? '10²' : datum.value == 1000 ? '10³' : datum.value == 10000 ? '10⁴' : ''"},
 "axisY": {"tickCount": 12, "labelAngle": -90, "labelAlign": "center", "labelBaseline": "bottom", "labelFontSize": 10, "labelPadding": 2, "titleFontSize": 12.5, "titlePadding": 3, "tickSize": 3,
   "labelExpr": "datum.value == 0 || datum.value == 120 ? datum.label : ''"}
}
}
